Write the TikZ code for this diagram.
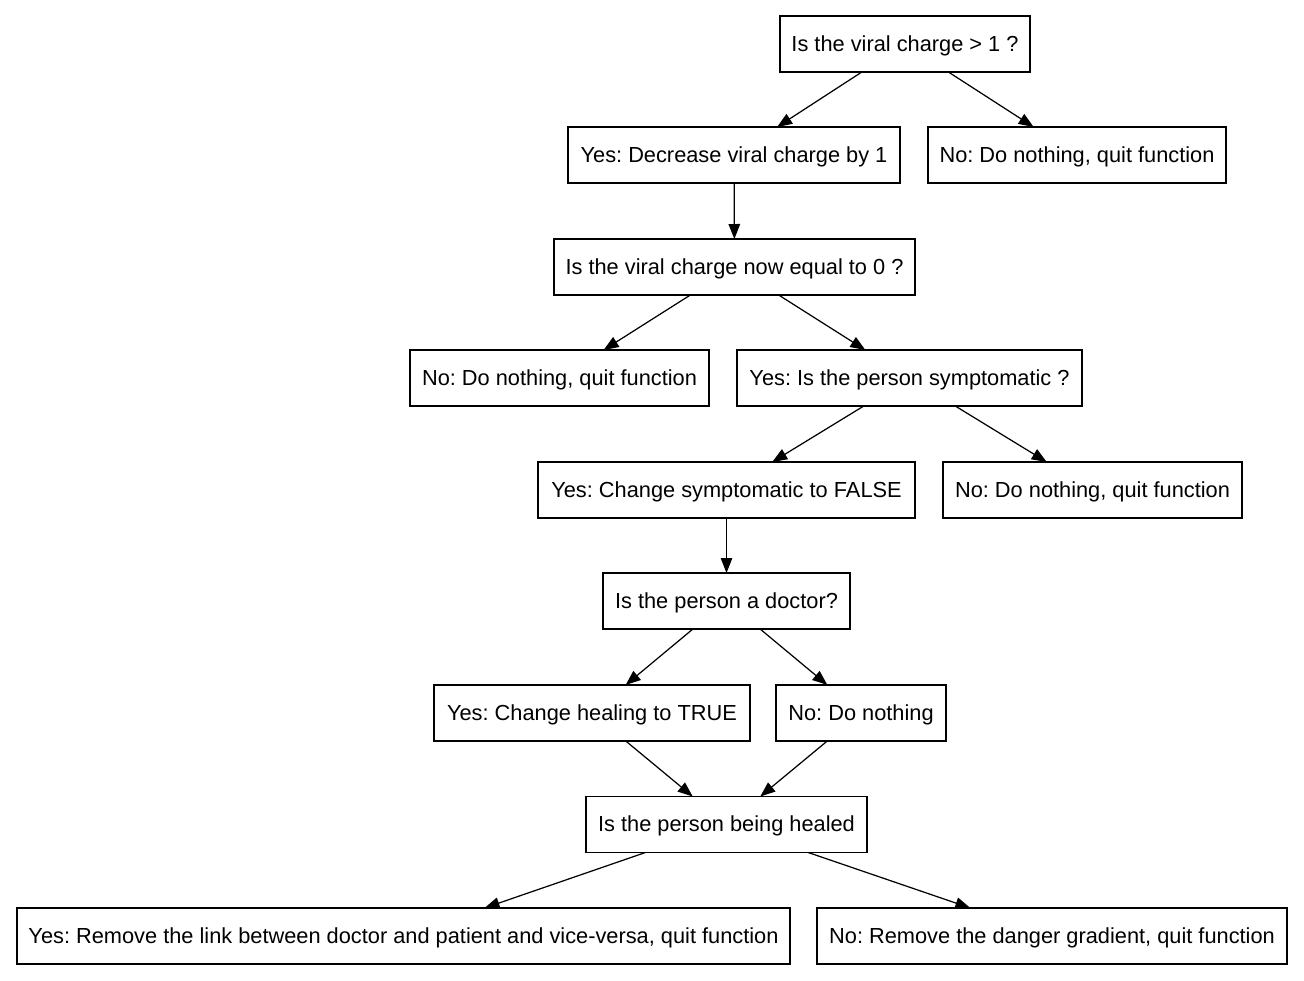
\documentclass[tikz,border=0pt]{standalone}
\usepackage{fontspec}
\setmainfont{Liberation Sans}
\usetikzlibrary{arrows.meta}
\frenchspacing

\begin{document}
\begin{tikzpicture}[x=0.02cm, y=-0.02cm,
    box/.style={draw, line width=0.7pt, minimum height=1.12cm, inner sep=0pt, outer sep=0pt,
      text height=11pt, text depth=2.5pt, font=\fontsize{12.4}{14}\selectfont},
    pfeil/.style={-{Triangle[length=0.3cm, width=0.23cm]}, line width=0.7pt}]
    \useasboundingbox (0,0) rectangle (1304,980);

    % Fragen
    \node[box, minimum width=5cm] (Q1) at (905,44) {Is the viral charge > 1 ?};
    \node[box, minimum width=7.22cm] (Q2) at (734.5,267) {Is the viral charge now equal to 0 ?};
    \node[box, minimum width=6.9cm] (Q3) at (909.5,378) {Yes: Is the person symptomatic ?};
    \node[box, minimum width=4.94cm] (Q4) at (726.5,601) {Is the person a doctor?};
    \node[box, minimum width=5.62cm] (Q5) at (726.5,824.5) {Is the person being healed};

    % Ja
    \node[box, minimum width=6.64cm] (Y1) at (734,155) {Yes: Decrease viral charge by 1};
    \node[box, minimum width=7.54cm] (Y3) at (726.5,490) {Yes: Change symptomatic to FALSE};
    \node[box, minimum width=6.32cm] (Y4) at (592,713) {Yes: Change healing to TRUE};
    \node[box, minimum width=15.46cm] (Y5) at (403.5,936) {Yes: Remove the link between doctor and patient and vice-versa, quit function};

    % Nein
    \node[box, minimum width=5.96cm] (N1) at (1077,155) {No: Do nothing, quit function};
    \node[box, minimum width=5.98cm] (N2) at (559.5,378) {No: Do nothing, quit function};
    \node[box, minimum width=5.98cm] (N3) at (1092.5,490) {No: Do nothing, quit function};
    \node[box, minimum width=3.4cm] (N4) at (861,713) {No: Do nothing};
    \node[box, minimum width=9.4cm] (N5) at (1052,936) {No: Remove the danger gradient, quit function};

    % Pfeile
    \draw[pfeil] (Q1) to (Y1);
    \draw[pfeil] (Q1) to (N1);
    \draw[pfeil] (Y1) to (Q2);
    \draw[pfeil] (Q2) to (N2);
    \draw[pfeil] (Q2) to (Q3);
    \draw[pfeil] (Q3) to (Y3);
    \draw[pfeil] (Q3) to (N3);
    \draw[pfeil] (Y3) to (Q4);
    \draw[pfeil] (Q4) to (Y4);
    \draw[pfeil] (Q4) to (N4);
    \draw[pfeil] (Y4) to (Q5);
    \draw[pfeil] (N4) to (Q5);
    \draw[pfeil] (Q5) to (Y5);
    \draw[pfeil] (Q5) to (N5);
  \end{tikzpicture}
\end{document}
